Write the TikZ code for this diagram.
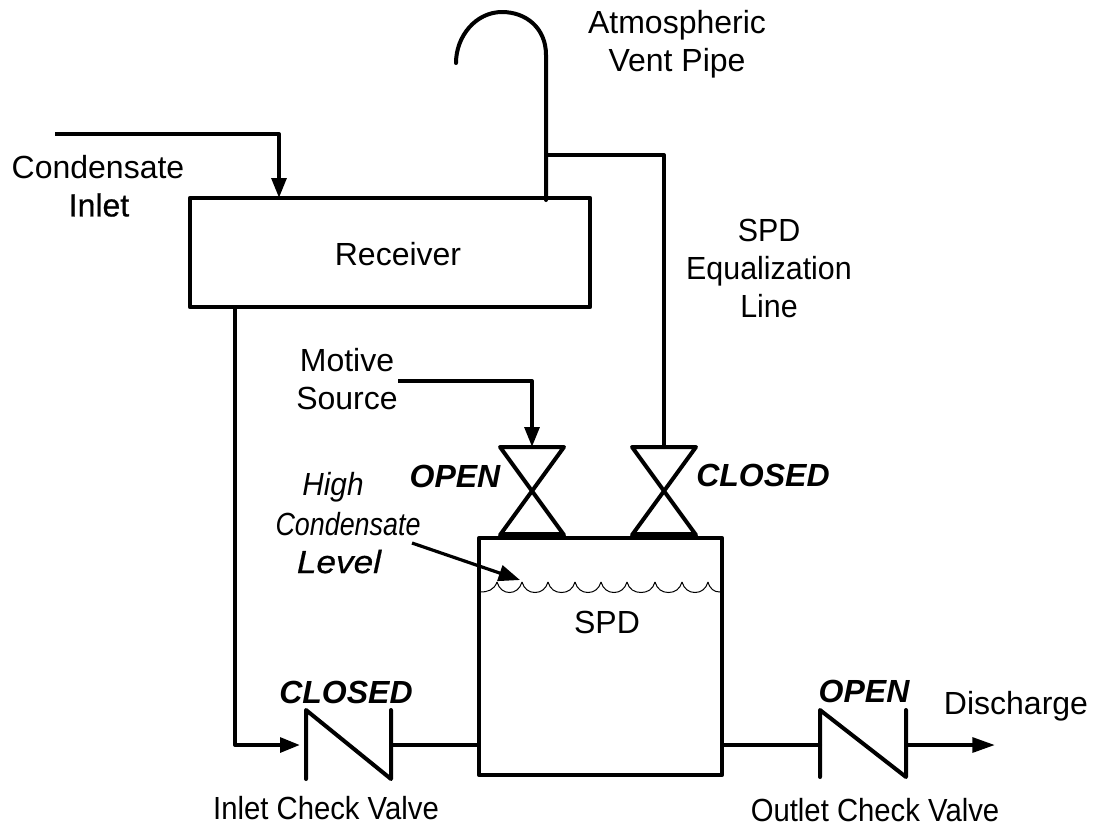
\documentclass[tikz,border=0pt]{standalone}
\usepackage{fontspec}
\setmainfont{Liberation Sans}
\newfontface\boldishfont{Liberation Sans}[FakeBold=0.6]
\newfontface\boldishitfont{Liberation Sans Italic}[FakeBold=0.6]
\usetikzlibrary{arrows.meta}
\tikzset{
  pipe/.style={line width=3pt,line cap=round,line join=round},
  flow/.style={pipe,line cap=butt,-{Triangle[length=15pt,width=11pt]}},
  lbl/.style={font=\fontsize{24pt}{28.5pt}\selectfont,align=center,inner sep=0pt},
  squeezed/.style={lbl,xscale=0.915,transform shape},
  italbl/.style={inner sep=0pt,anchor=base,transform shape,font=\fontsize{24pt}{28pt}\selectfont\itshape},
  state/.style={font=\fontsize{24pt}{28pt}\selectfont\bfseries\itshape,inner sep=0pt},
  vessel/.style={draw,line width=3.2pt,inner sep=0pt,line join=round},
  thinline/.style={line width=0.75pt}
}
\begin{document}
\begin{tikzpicture}[x=0.75pt,y=-0.75pt]
\useasboundingbox (0,0) rectangle (1094,826);
\node[vessel,minimum width=300pt,minimum height=81.75pt] (rcv) at (390,252.5) {};
\node[vessel,minimum width=182pt,minimum height=178pt] (spd) at (600.5,656.5) {};
\node[lbl] (rcvt) at (398,254) {Receiver};
\node[lbl] (spdt) at (607,622) {SPD};
% coordinates
\coordinate (inA) at (55,134);
\coordinate (inB) at (279,134);
\coordinate (inC) at (279,198);
\coordinate (ventB) at (546,200);
\coordinate (ventT) at (546,55);
\coordinate (ventE) at (456,63);
\coordinate (eqJ) at (546,155);
\coordinate (eqC) at (664,155);
\coordinate (v2t) at (664,447);
\coordinate (motA) at (398,381);
\coordinate (motB) at (532,381);
\coordinate (v1t) at (532,447);
\coordinate (rcvO) at (235,307);
\coordinate (rcvC) at (235,745);
\coordinate (chk1a) at (300,745);
\coordinate (chk1b) at (391,745);
\coordinate (spdL) at (478,745);
\coordinate (spdR) at (722,745);
\coordinate (chk2a) at (820,745);
\coordinate (chk2b) at (906,745);
\coordinate (dis) at (995,745);
\coordinate (lvlA) at (412,543);
\coordinate (lvlB) at (520,580);
% pipes
\draw[flow] (inA) -- (inB) -- (inC);
\draw[pipe] (ventB) -- (ventT) .. controls (546,28) and (526,12) .. (502,12) .. controls (476,12) and (456,36) .. (ventE);
\draw[pipe] (eqJ) -- (eqC) -- (v2t);
\draw[flow] (motA) -- (motB) -- (v1t);
\draw[flow] (rcvO) -- (rcvC) -- (chk1a);
\draw[pipe] (chk1b) -- (spdL);
\draw[pipe] (spdR) -- (chk2a);
\draw[pipe,line cap=butt,-{Triangle[length=17pt,width=11pt]}] (chk2b) -- (dis);
% gate valves
\foreach \c in {532,664}{
  \draw[pipe] (\c-32,447) -- (\c+32,447) -- (\c-32,535) -- (\c+32,535) -- cycle;
  \fill (\c-32,532) rectangle (\c+32,538);
}
% check valves
\draw[pipe] (306,779) -- (306,710) -- (391,779) -- (391,710);
\draw[pipe] (820,777) -- (820,710) -- (906,777) -- (906,710);
% level
\draw[thinline] (480,592) .. controls (488,592) and (494,590) .. (497,582);
\foreach \a/\b in {497/522,522/548,548/575,575/601,601/627,627/655,655/682,682/708}{
  \draw[thinline] (\a,582) .. controls (\a+2,589) and (\a+7,592.5) .. ({(\a+\b)/2},592.5) .. controls (\b-7,592.5) and (\b-2,589) .. (\b,582);
}
\draw[thinline] (708,582) .. controls (710,589) and (714,592) .. (720,592);
\draw[line width=2.4pt,-{Triangle[length=16pt,width=12pt]}] (lvlA) -- (lvlB);
% labels
\node[lbl] (t1) at (677,44) {Atmospheric\\Vent Pipe};
\node[lbl] (t2) at (98,167) {Condensate};
\node[lbl] (t2b) at (99,205) {\boldishfont Inlet};
\node[lbl,xscale=0.95,transform shape] (t3) at (769,268) {SPD\\Equalization\\Line};
\node[lbl] (t4) at (347,379) {Motive\\Source};
\node[italbl,xscale=0.93] (t5) at (333,495) {High};
\node[italbl,xscale=0.84] (t5b) at (348,535) {Condensate};
\node[italbl,xscale=1.1] (t5c) at (339,573) {\boldishitfont Level};
\node[state] (s1) at (455,476) {OPEN};
\node[state] (s2) at (763,475) {CLOSED};
\node[state] (s3) at (346,692) {CLOSED};
\node[state] (s4) at (864,691) {OPEN};
\node[lbl] (t6) at (1016,706) {Discharge};
\node[squeezed] (t7) at (326,808) {Inlet Check Valve};
\node[squeezed] (t8) at (875,810) {Outlet Check Valve};
\end{tikzpicture}
\end{document}
